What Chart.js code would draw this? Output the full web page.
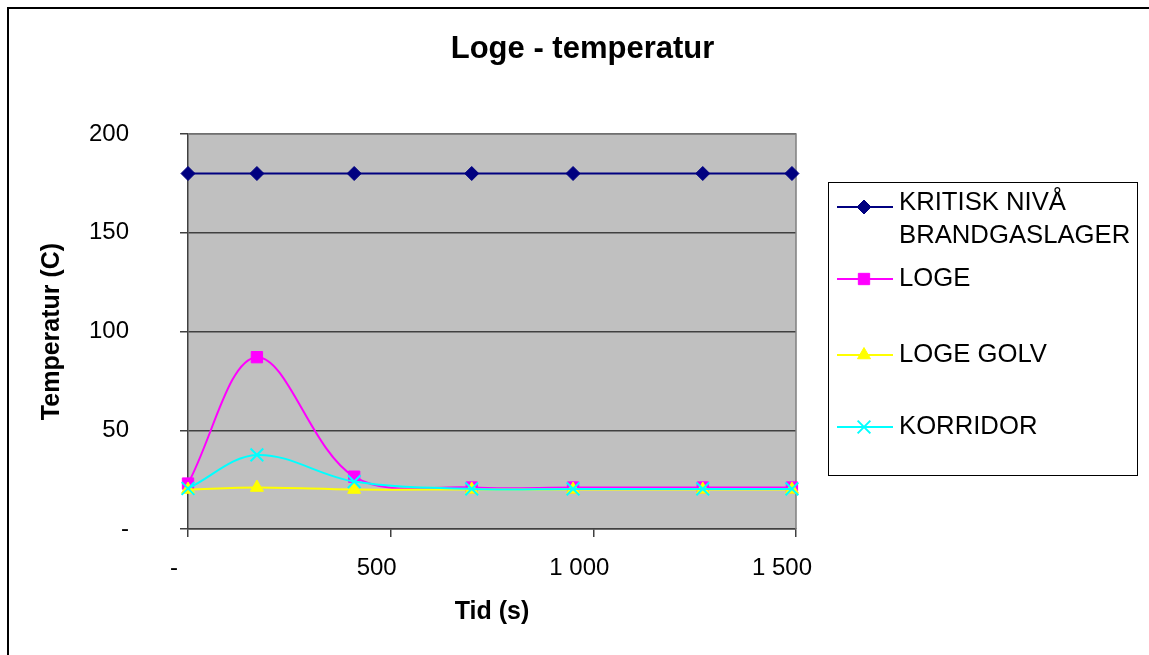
<!DOCTYPE html>
<html>
<head>
<meta charset="utf-8">
<script src="https://cdn.jsdelivr.net/npm/chart.js@4/dist/chart.umd.min.js"></script>
<style>
  html, body { margin:0; padding:0; background:#fff; overflow:hidden; width:1149px; height:655px; }
  #frame { position:absolute; left:7px; top:7px; width:2000px; height:2000px; border-top:2px solid #000; border-left:2px solid #000; }
  #c { position:absolute; left:0; top:0; }
</style>
</head>
<body>
<div id="frame"></div>
<canvas id="c" width="1149" height="655"></canvas>
<script>
// ---- data ----
const chartTitle = 'Loge - temperatur';
const xTitle = 'Tid (s)';
const yTitle = 'Temperatur (C)';
const times = [0, 170, 410, 700, 950, 1270, 1490];
const seriesNames = ['KRITISK NIVÅ BRANDGASLAGER', 'LOGE', 'LOGE GOLV', 'KORRIDOR'];
const kritisk  = [180, 180, 180, 180, 180, 180, 180];
const loge     = [23, 87, 26.5, 21, 21, 21, 21];
const logeGolv = [20, 21, 20, 20, 20, 20, 20];
const korridor = [20.5, 37.5, 24, 20.3, 20.3, 20.3, 20.3];
const xTickValues = [0, 500, 1000, 1500];
const xTickLabels = ['-', '500', '1 000', '1 500'];
const yTickValues = [0, 50, 100, 150, 200];
const yTickLabels = ['-', '50', '100', '150', '200'];

const FONT = "'Liberation Sans', Arial, Helvetica, sans-serif";
const pts = vals => times.map((t, i) => ({ x: t, y: vals[i] }));

const styles = [
  { color: '#000080', pointStyle: 'rectRot', radius: 7, bw: 1 },
  { color: '#FF00FF', pointStyle: 'rect', radius: 8, bw: 1 },
  { color: '#FFFF00', pointStyle: 'triangle', radius: 7.5, bw: 1 },
  { color: '#00FFFF', pointStyle: 'crossRot', radius: 9, bw: 2 }
];
const values = [kritisk, loge, logeGolv, korridor];

const datasets = values.map((v, i) => ({
  label: seriesNames[i],
  data: pts(v),
  borderColor: styles[i].color,
  backgroundColor: styles[i].color,
  borderWidth: 2,
  tension: 0.35,
  pointStyle: styles[i].pointStyle,
  pointRadius: styles[i].radius,
  pointHoverRadius: styles[i].radius,
  pointBackgroundColor: styles[i].color,
  pointBorderColor: styles[i].color,
  pointBorderWidth: styles[i].bw,
  clip: false,
  order: values.length - 1 - i
}));

const plotBg = {
  id: 'plotBg',
  beforeDraw(chart) {
    const { ctx, chartArea: a } = chart;
    ctx.save();
    ctx.fillStyle = '#C0C0C0';
    ctx.fillRect(a.left, a.top, a.right - a.left, a.bottom - a.top);
    ctx.restore();
  },
  beforeDatasetsDraw(chart) {
    const { ctx, chartArea: a } = chart;
    ctx.save();
    ctx.strokeStyle = '#808080';
    ctx.lineWidth = 1.5;
    ctx.beginPath();
    ctx.moveTo(a.left, a.top);
    ctx.lineTo(a.right, a.top);
    ctx.lineTo(a.right, a.bottom);
    ctx.stroke();
    ctx.restore();
  }
};

function wrapText(ctx, text, maxW) {
  const words = text.split(' ');
  const lines = [];
  let cur = '';
  words.forEach(w => {
    const test = cur ? cur + ' ' + w : w;
    if (ctx.measureText(test).width > maxW && cur) { lines.push(cur); cur = w; }
    else cur = test;
  });
  if (cur) lines.push(cur);
  return lines;
}

function drawMarker(ctx, st, x, y) {
  ctx.fillStyle = st.color;
  ctx.strokeStyle = st.color;
  ctx.lineWidth = st.bw;
  const opts = { pointStyle: st.pointStyle, rotation: 0, radius: st.radius, borderWidth: st.bw };
  if (Chart.helpers && Chart.helpers.drawPoint) {
    Chart.helpers.drawPoint(ctx, opts, x, y);
  }
}

const boxLegend = {
  id: 'boxLegend',
  afterDraw(chart) {
    const ctx = chart.ctx;
    ctx.save();
    ctx.strokeStyle = '#000';
    ctx.lineWidth = 1;
    ctx.strokeRect(828.5, 182.5, 309, 293);
    const rowY = [207, 279, 355, 427];
    ctx.textBaseline = 'middle';
    ctx.textAlign = 'left';
    chart.data.datasets.forEach((ds, i) => {
      const y = rowY[i];
      const st = styles[i];
      ctx.strokeStyle = st.color;
      ctx.lineWidth = 2;
      ctx.beginPath();
      ctx.moveTo(837, y);
      ctx.lineTo(893, y);
      ctx.stroke();
      drawMarker(ctx, st, 864, y);
      ctx.fillStyle = '#000';
      ctx.font = '25.7px ' + FONT;
      const lines = wrapText(ctx, ds.label, 236);
      const start = lines.length > 1 ? y - 4 : y;
      lines.forEach((ln, k) => ctx.fillText(ln, 899, start + k * 33));
    });
    ctx.restore();
  }
};

new Chart(document.getElementById('c'), {
  type: 'line',
  data: { datasets },
  plugins: [plotBg, boxLegend],
  options: {
    responsive: false,
    animation: false,
    devicePixelRatio: 1,
    events: [],
    layout: { padding: { left: 16, right: 0, top: 0, bottom: 0 } },
    plugins: {
      legend: { display: false },
      tooltip: { enabled: false },
      title: {
        display: true,
        text: chartTitle,
        color: '#000',
        font: { family: FONT, size: 31, weight: 'bold' },
        padding: { top: 31, bottom: 65.8 }
      }
    },
    scales: {
      x: {
        type: 'linear',
        min: 0,
        max: 1500,
        afterBuildTicks: s => { s.ticks = xTickValues.map(v => ({ value: v })); },
        afterFit: s => { s.height = 126; },
        ticks: {
          callback: v => xTickLabels[xTickValues.indexOf(v)],
          color: '#000',
          font: { family: FONT, size: 24 },
          padding: 17,
          labelOffset: -14,
          maxRotation: 0,
          autoSkip: false
        },
        grid: { drawOnChartArea: false, drawTicks: true, tickLength: 8, color: '#404040', lineWidth: 1.5 },
        border: { color: '#404040', width: 1.5 },
        title: {
          display: true,
          text: xTitle,
          color: '#000',
          font: { family: FONT, size: 25, weight: 'bold' },
          padding: { top: 0, bottom: 28 }
        }
      },
      y: {
        min: 0,
        max: 200,
        afterBuildTicks: s => { s.ticks = yTickValues.map(v => ({ value: v })); },
        afterFit: s => { s.width = 172; },
        ticks: {
          callback: v => yTickLabels[yTickValues.indexOf(v)],
          color: '#000',
          font: { family: FONT, size: 24 },
          padding: 51
        },
        grid: { color: '#404040', lineWidth: 1.5, tickLength: 8 },
        border: { color: '#404040', width: 1.5 },
        title: {
          display: true,
          text: yTitle,
          color: '#000',
          font: { family: FONT, size: 25, weight: 'bold' },
          padding: { top: 21, bottom: 0 }
        }
      },
      legendSpace: {
        type: 'linear',
        position: 'right',
        display: true,
        afterFit: s => { s.width = 353; },
        ticks: { display: false },
        grid: { display: false, drawOnChartArea: false, drawTicks: false },
        border: { display: false },
        title: { display: false }
      }
    }
  }
});
</script>
</body>
</html>
